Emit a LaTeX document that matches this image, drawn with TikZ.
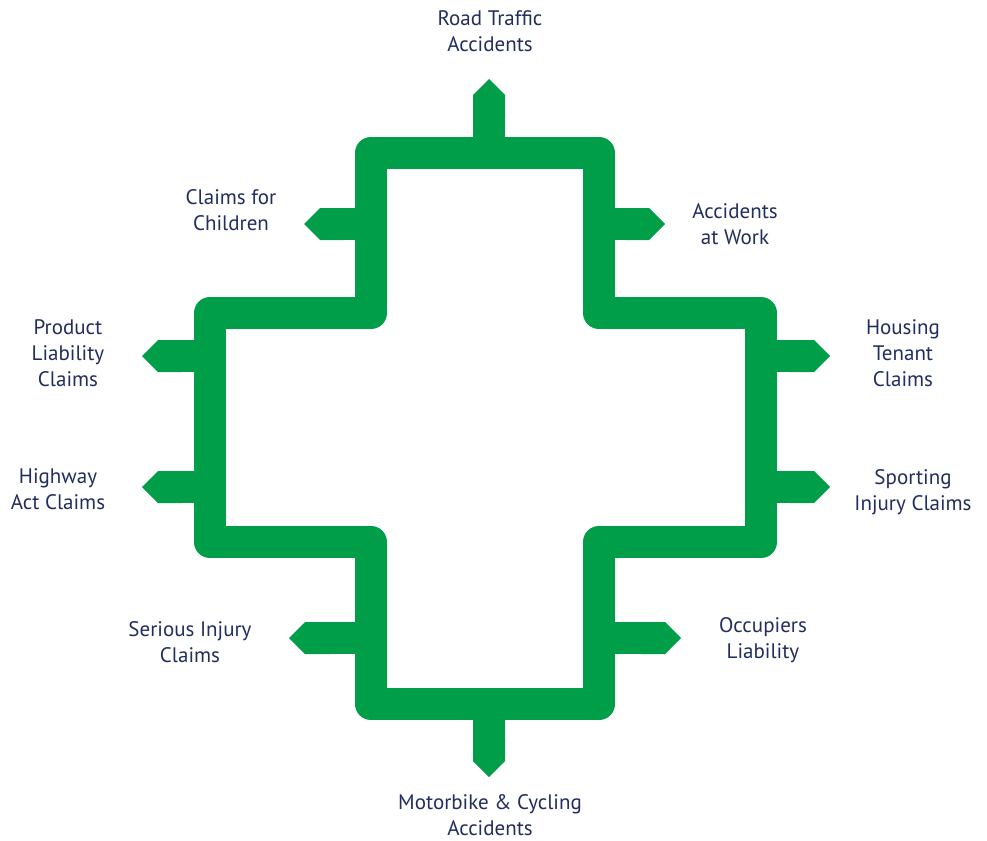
\documentclass[tikz,border=0pt]{standalone}
\usepackage{fontspec}
\setmainfont{PT Sans}
\definecolor{crossgreen}{RGB}{0,158,73}
\definecolor{labelblue}{RGB}{32,45,94}
\usetikzlibrary{arrows.meta,positioning}

\begin{document}
\begin{tikzpicture}[x=1pt,y=-1pt,
    band/.style={draw=crossgreen,line width=32pt,line join=round},
    stub/.style={draw=crossgreen,line width=32pt,-{Triangle Cap[]}},
    every node/.style={text=labelblue,align=center,font=\fontsize{21}{26}\selectfont}
    ]
    \useasboundingbox (0,0) rectangle (987,840);

    % the cross
    \draw[band] (371,153) -- (599,153) -- (599,313) -- (761,313) -- (761,542)
        -- (599,542) -- (599,704) -- (371,704) -- (371,542) -- (210,542)
        -- (210,313) -- (371,313) -- cycle;

    % where the stubs start and end
    \coordinate (rta0) at (489,153);  \coordinate (rta) at (489,79);
    \coordinate (mca0) at (489,704);  \coordinate (mca) at (489,777);
    \coordinate (cfc0) at (371,224);  \coordinate (cfc) at (304,224);
    \coordinate (aaw0) at (599,224);  \coordinate (aaw) at (665,224);
    \coordinate (plc0) at (210,356);  \coordinate (plc) at (142,356);
    \coordinate (hac0) at (210,487);  \coordinate (hac) at (142,487);
    \coordinate (htc0) at (761,356);  \coordinate (htc) at (830,356);
    \coordinate (sic0) at (761,487);  \coordinate (sic) at (830,487);
    \coordinate (sjc0) at (371,638);  \coordinate (sjc) at (289,638);
    \coordinate (ocl0) at (599,638);  \coordinate (ocl) at (681,638);

    % the stubs
    \foreach \s in {rta,mca,cfc,aaw,plc,hac,htc,sic,sjc,ocl}
        \draw[stub] (\s0) -- (\s);

    % the labels
    \node (trta) at (490,31) {Road Traffic\\Accidents};
    \node (tmca) at (490,815) {Motorbike \& Cycling\\Accidents};
    \node (tcfc) at (231,210) {Claims for\\Children};
    \node (taaw) at (735,224) {Accidents\\at Work};
    \node (tplc) at (68,353) {Product\\Liability\\Claims};
    \node (thac) at (58,489) {Highway\\Act Claims};
    \node (thtc) at (903,353) {Housing\\Tenant\\Claims};
    \node (tsic) at (913,492) {Sporting\\Injury Claims};
    \node (tsjc) at (190,642) {Serious Injury\\Claims};
    \node (tocl) at (763,640) {Occupiers\\Liability};
\end{tikzpicture}
\end{document}
